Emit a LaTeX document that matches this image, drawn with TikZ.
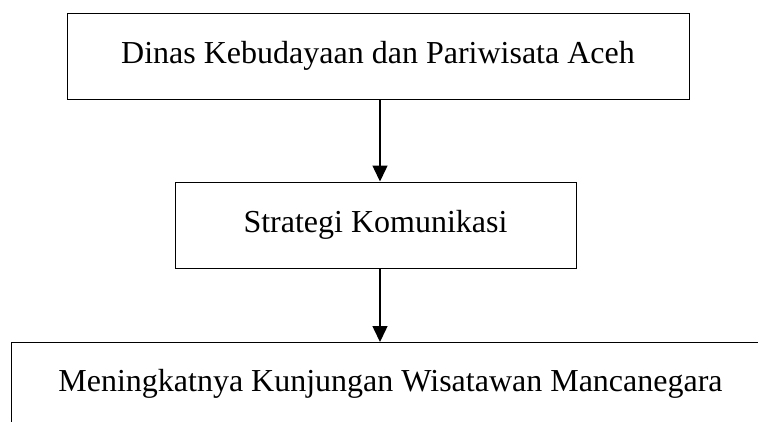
\documentclass[tikz,border=0pt]{standalone}
\usepackage{fontspec}
\setmainfont{Liberation Serif}
\usetikzlibrary{arrows.meta}
\begin{document}
\begin{tikzpicture}[x=1pt,y=-1pt,box/.style={draw,line width=1pt,inner sep=0pt,font=\fontsize{32}{38}\selectfont},
  arr/.style={line width=1.5pt,-{Triangle[length=16pt,width=15pt]}}]
\useasboundingbox (0,0) rectangle (758,421);
\node[box,minimum width=622pt,minimum height=86pt] (dinas) at (378,56) {Dinas Kebudayaan dan Pariwisata Aceh};
\node[box,minimum width=401pt,minimum height=86pt] (strategi) at (375.5,225) {Strategi Komunikasi};
\node[box,minimum width=758pt,minimum height=82pt,anchor=north west] (hasil) at (11,342) {Meningkatnya Kunjungan Wisatawan Mancanegara};
\draw[arr] (dinas.south -| 380,0) -- (strategi.north -| 380,0);
\draw[arr] (strategi.south -| 380,0) -- (hasil.north -| 380,0);
\end{tikzpicture}
\end{document}
